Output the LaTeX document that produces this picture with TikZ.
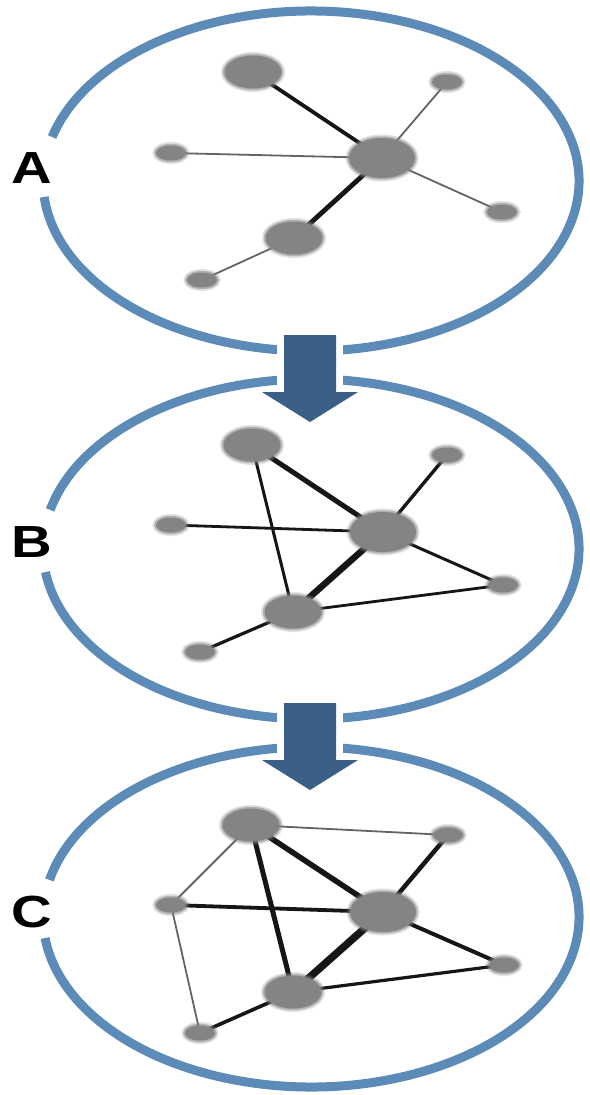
\documentclass[tikz,border=0pt]{standalone}
\usepackage{fontspec}
\usepackage{graphicx}
\setsansfont{Liberation Sans}
\usetikzlibrary{shapes.geometric,backgrounds}
\definecolor{ringblue}{RGB}{92,139,183}
\definecolor{arrowblue}{RGB}{58,96,136}
\definecolor{dotgray}{RGB}{132,132,132}
\definecolor{linkdark}{RGB}{22,22,22}
\definecolor{linkgray}{RGB}{100,100,100}
\tikzset{
  ring/.style={draw=ringblue, line width=9pt},
  dot/.style={ellipse, inner sep=0pt, outer sep=0pt, fill=dotgray,
              preaction={draw=dotgray, draw opacity=0.25, line width=7pt},
              draw=dotgray, draw opacity=0.5, line width=3.5pt},
  bigdot/.style={dot, minimum width=66pt, minimum height=40pt},
  middot/.style={dot, minimum width=57pt, minimum height=33pt},
  smalldot/.style={dot, minimum width=30pt, minimum height=15pt},
  hair/.style={draw=linkgray, line width=1.8pt},
  link/.style={draw=linkdark, line width=#1},
  panellabel/.style={font=\sffamily\bfseries\fontsize{45}{45}\selectfont, inner sep=0pt},
  downarrow/.style={fill=arrowblue},
}
% elliptical ring with an opening on the left side
\newcommand{\openring}[4]{%
  \draw[ring] (#1,#2) ++(#3:268 and 170)
    arc[start angle=#3, end angle=#4, x radius=268, y radius=170];}
% block arrow pointing down, shaft top at #1, head base at #2, tip at #3
\newcommand{\blockarrow}[3]{%
  \fill[white] (277,#1-5) rectangle (343,#2-2);
  \fill[downarrow] (284,#1) -- (336,#1) -- (336,#2) -- (358,#2)
    -- (310,#3) -- (262,#2) -- (284,#2) -- cycle;}
\begin{document}
\begin{tikzpicture}[x=1pt, y=-1pt]
\begin{scope}[on background layer]
  \fill[white] (0,0) rectangle (589,1095);
\end{scope}
\useasboundingbox (0,0) rectangle (589,1095);

% rings
\openring{311}{181}{195.0}{534.6}
\openring{311}{549}{193.3}{532.2}
\openring{311}{917}{192.6}{532.9}

% arrows between the rings
\blockarrow{335}{392}{422}
\blockarrow{703}{760}{790}

% panel letters
\node[panellabel] (labA) at (32,168) {\scalebox{1.25}[1]{A}};
\node[panellabel] (labB) at (32,542) {\scalebox{1.25}[1]{B}};
\node[panellabel] (labC) at (32,912) {\scalebox{1.25}[1]{C}};

% panel A nodes
\node[middot]   (A1) at (253,72)  {};
\node[smalldot] (A2) at (171,153) {};
\node[bigdot]   (A3) at (382,158) {};
\node[smalldot] (A4) at (447,82)  {};
\node[smalldot] (A5) at (502,212) {};
\node[middot]   (A6) at (294,238) {};
\node[smalldot] (A7) at (202,280) {};

% panel B nodes
\node[middot]   (B1) at (252,445) {};
\node[smalldot] (B2) at (171,525) {};
\node[bigdot]   (B3) at (383,532) {};
\node[smalldot] (B4) at (447,455) {};
\node[smalldot] (B5) at (503,585) {};
\node[middot]   (B6) at (293,612) {};
\node[smalldot] (B7) at (200,652) {};

% panel C nodes
\node[middot]   (C1) at (251,825) {};
\node[smalldot] (C2) at (171,905) {};
\node[bigdot]   (C3) at (383,912) {};
\node[smalldot] (C4) at (448,835) {};
\node[smalldot] (C5) at (504,965) {};
\node[middot]   (C6) at (293,992) {};
\node[smalldot] (C7) at (200,1033) {};

\begin{scope}[on background layer]
  % panel A links
  \draw[link=3.8pt] (A1.center) -- (A3.center);
  \draw[link=4.8pt] (A3.center) -- (A6.center);
  \draw[hair] (A2.center) -- (A3.center);
  \draw[hair] (A3.center) -- (A4.center);
  \draw[hair] (A3.center) -- (A5.center);
  \draw[hair] (A6.center) -- (A7.center);
  % panel B links
  \draw[link=5pt]   (B1.center) -- (B3.center);
  \draw[link=3pt]   (B1.center) -- (B6.center);
  \draw[link=2.8pt] (B2.center) -- (B3.center);
  \draw[link=3.4pt] (B3.center) -- (B4.center);
  \draw[link=6.5pt] (B3.center) -- (B6.center);
  \draw[link=3pt]   (B3.center) -- (B5.center);
  \draw[link=2.8pt] (B6.center) -- (B5.center);
  \draw[link=3.2pt] (B6.center) -- (B7.center);
  % panel C links
  \draw[hair] (C1.center) -- (C4.center);
  \draw[hair] (C1.center) -- (C2.center);
  \draw[hair] (C2.center) -- (C7.center);
  \draw[link=5.5pt] (C1.center) -- (C3.center);
  \draw[link=5pt]   (C1.center) -- (C6.center);
  \draw[link=3.8pt] (C2.center) -- (C3.center);
  \draw[link=4.5pt] (C3.center) -- (C4.center);
  \draw[link=7.5pt] (C3.center) -- (C6.center);
  \draw[link=4pt]   (C3.center) -- (C5.center);
  \draw[link=3.2pt] (C6.center) -- (C5.center);
  \draw[link=3.6pt] (C6.center) -- (C7.center);
\end{scope}
\end{tikzpicture}
\end{document}
